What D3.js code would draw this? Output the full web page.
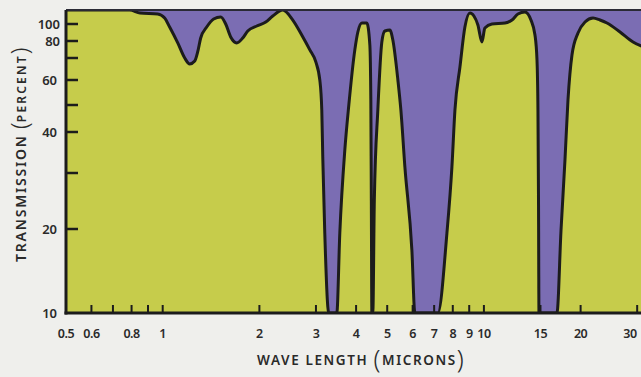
<!DOCTYPE html>
<html>
<head>
<meta charset="utf-8">
<script src="https://cdn.jsdelivr.net/npm/d3@7"></script>
<style>
html,body{margin:0;padding:0;background:#efefec;}
svg{display:block;}
text{font-family:"Noto Sans",sans-serif;fill:#2a2a2a;}
</style>
</head>
<body>
<svg id="chart" width="641" height="377"></svg>
<script>
// ---- data ----
const wavelength = [0.5,0.79,0.85,0.965,1.014,1.051,1.114,1.171,1.214,1.258,1.285,1.313,1.371,1.441,1.516,1.571,1.628,1.70,1.775,1.84,1.963,2.094,2.201,2.365,2.541,2.731,2.871,2.997,3.084,3.128,3.150,3.196,3.289,3.484,3.559,3.69,3.797,3.964,4.051,4.169,4.321,4.415,4.446,4.462,4.479,4.510,4.559,4.675,4.811,4.917,5.096,5.206,5.397,5.514,5.675,5.967,6.096,7.19,7.67,7.951,8.125,8.421,8.726,9.045,9.308,9.579,9.857,10.07,10.59,11.63,12.23,12.76,13.42,14.01,14.42,14.63,14.73,14.79,14.84,16.88,17.38,17.88,18.27,18.80,19.63,20.64,21.86,22.98,24.16,26.53,29.12,31.96];
const transmission = [120,120,115.4,113.9,108.1,96.1,78.8,70,67.1,68.5,73.4,83.2,96.1,106.7,109.5,100,84.3,78.8,83.2,91.2,97.4,102.6,111.0,120,105.3,84.3,74.6,68.1,60,48.0,33.6,19.3,10,10,19.3,35.3,50,74.6,90.0,101.3,101.3,77.5,51.9,24.7,10,10,24.7,48.0,79.4,91.2,92.4,81.0,60,48.0,31.3,16.8,10,10,19.3,31.3,48.0,65.7,96.1,115.4,111.0,98.7,79.4,94.9,100,101.3,105.3,113.9,116.9,105.3,86.6,69.0,48.0,24.7,10,10,19.8,32.9,51.9,71.7,88.9,102.6,108.1,105.3,101.3,90.0,79.4,75.7];
const xTicks = [0.6,0.7,0.8,0.9,1,2,3,4,5,6,7,8,9,10,15,20,30];
const xTickLabels = [
  {v:0.5,t:"0.5"},{v:0.6,t:"0.6"},{v:0.8,t:"0.8"},{v:1,t:"1"},{v:2,t:"2"},{v:3,t:"3"},
  {v:4,t:"4"},{v:5,t:"5"},{v:6,t:"6"},{v:7,t:"7"},{v:8,t:"8"},{v:9,t:"9"},
  {v:10,t:"10"},{v:15,t:"15"},{v:20,t:"20"},{v:30,t:"30"}];
const yTicks = [20,30,40,50,60,70,80,100];
const yTickLabels = [10,20,40,60,80,100];
// the printed percent axis is not a clean log scale: piecewise knots
const yKnots = [10,20,30,40,50,60,70,80,100,120];

// ---- layout ----
const svg = d3.select("#chart");
const L = 66, T = 10, B = 313, R = 646;
const x = d3.scaleLog().domain([0.5, 31.96]).range([L, R]);
const y = d3.scaleLog().domain(yKnots)
  .range([313,229,173,132,105,80,58,41,24,10]);

const data = wavelength.map((w,i)=>({w, t:transmission[i]}));

const purple = "#7b6db3", green = "#c6cc4b";

svg.append("defs").append("clipPath").attr("id","clip")
  .append("rect").attr("x",L).attr("y",T).attr("width",R-L).attr("height",B-T);

const g = svg.append("g").attr("clip-path","url(#clip)");
g.append("rect").attr("x",L).attr("y",T).attr("width",R-L).attr("height",B-T).attr("fill",purple);

const curve = d3.curveMonotoneX;
g.append("path").datum(data)
  .attr("fill",green)
  .attr("d", d3.area().x(d=>x(d.w)).y0(B).y1(d=>y(d.t)).curve(curve));
g.append("path").datum(data)
  .attr("fill","none").attr("stroke","#1c1c1c").attr("stroke-width",3).attr("stroke-linejoin","round")
  .attr("d", d3.line().x(d=>x(d.w)).y(d=>y(d.t)).curve(curve));

// frame
svg.append("line").attr("x1",L).attr("x2",641).attr("y1",T).attr("y2",T).attr("stroke","#2a2a35").attr("stroke-width",2);
svg.append("line").attr("x1",L).attr("x2",L).attr("y1",T).attr("y2",B+1.5).attr("stroke","#1c1c1c").attr("stroke-width",3);
svg.append("line").attr("x1",L-1.5).attr("x2",641).attr("y1",B).attr("y2",B).attr("stroke","#1c1c1c").attr("stroke-width",3);

// y ticks (inward)
svg.selectAll(".yt").data(yTicks).enter().append("line")
  .attr("x1",L).attr("x2",L+12).attr("y1",d=>y(d)).attr("y2",d=>y(d))
  .attr("stroke","#1c1c1c").attr("stroke-width",2.5);
svg.selectAll(".yl").data(yTickLabels).enter().append("text")
  .attr("x",d=> d>=80 ? 60 : 57).attr("y",d=>y(d)).attr("dy","0.36em")
  .attr("text-anchor","end").attr("font-size",13).attr("font-weight",600)
  .text(d=>d);

// x ticks (inward)
svg.selectAll(".xt").data(xTicks).enter().append("line")
  .attr("x1",d=>x(d)).attr("x2",d=>x(d)).attr("y1",B).attr("y2",B-8)
  .attr("stroke","#1c1c1c").attr("stroke-width",2);
svg.selectAll(".xl").data(xTickLabels).enter().append("text")
  .attr("x",d=> d.v===30 ? 630 : x(d.v)).attr("y",338)
  .attr("text-anchor","middle").attr("font-size",12.5).attr("font-weight",600)
  .attr("letter-spacing",-0.5)
  .text(d=>d.t);

// axis titles
const xt = svg.append("text").attr("x",257).attr("y",365).attr("text-anchor","start")
  .attr("font-size",13.5).attr("font-weight",600).attr("letter-spacing",1.6);
xt.append("tspan").text("WAVE LENGTH ");
xt.append("tspan").attr("font-size",25).attr("font-weight",300).attr("dy",3).text("(");
xt.append("tspan").attr("dy",-3).text("MICRONS");
xt.append("tspan").attr("font-size",25).attr("font-weight",300).attr("dy",3).text(")");

const yt = svg.append("text").attr("transform","translate(26,262) rotate(-90)")
  .attr("text-anchor","start").attr("font-size",14).attr("font-weight",600).attr("letter-spacing",1.8);
yt.append("tspan").text("TRANSMISSION ");
yt.append("tspan").attr("font-size",24).attr("font-weight",300).attr("dy",2).attr("letter-spacing",0).text("(");
yt.append("tspan").attr("dy",-2).attr("font-size",12).attr("letter-spacing",2.2).text("PERCENT");
yt.append("tspan").attr("font-size",24).attr("font-weight",300).attr("dy",2).attr("letter-spacing",0).text(")");
</script>
</body>
</html>
